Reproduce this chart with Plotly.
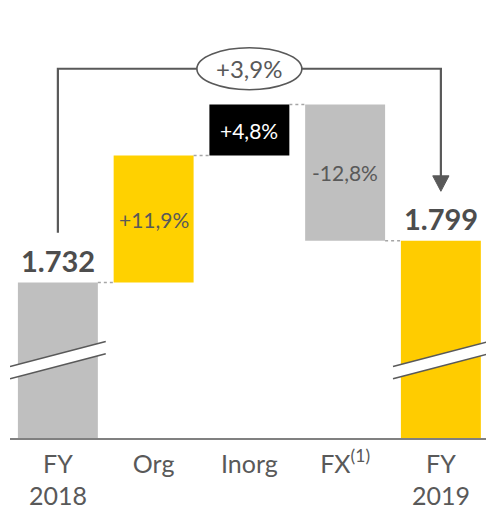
import plotly.graph_objects as go

# ---- data ----
categories = ["FY<br>2018", "Org", "Inorg", "FX<sup>(1)</sup>", "FY<br>2019"]
start_label = "1.732"
end_label = "1.799"
change_names = ["Org", "Inorg", "FX"]
changes = [11.9, 4.8, -12.8]          # % contributions
total_change = 3.9                    # % total growth
bar_colors = ["#BFBFBF", "#FFD100", "#000000", "#BFBFBF", "#FFCC00"]
label_colors = ["#595959", "white", "#595959"]

# ---- scale (index, FY2018 = 100) ----
start_val = 100.0
PX_PER_UNIT = 10.657
PLOT_H = 438
y_min = 85.4
y_max = y_min + PLOT_H / PX_PER_UNIT
levels = [start_val]
for c in changes:
    levels.append(levels[-1] + c)
end_val = start_val + total_change

BW = 0.835
TXT = "#595959"
FONT = "Lato"
last = len(categories) - 1

fig = go.Figure()

# bars
xs = list(range(len(categories)))
bases = [y_min] + [min(levels[i], levels[i + 1]) for i in range(len(changes))] + [y_min]
heights = [start_val - y_min] + [abs(c) for c in changes] + [end_val - y_min]
fig.add_trace(go.Bar(
    x=xs, y=heights, base=bases, width=BW,
    marker=dict(color=bar_colors, line=dict(width=0)),
    hoverinfo="skip", showlegend=False,
))

shapes = []
annotations = []

# dotted connectors
conn_levels = levels[:]
conn_levels[-1] = end_val
for i in range(last):
    shapes.append(dict(type="line", xref="x", yref="y",
                       x0=i + BW / 2, x1=i + 1 - BW / 2,
                       y0=conn_levels[i], y1=conn_levels[i],
                       line=dict(color="#A6A6A6", width=1.5, dash="dot")))

# break marks on the two total bars
for i in (0, last):
    yl_up, yr_up = 92.1, 94.45
    yl_lo, yr_lo = 90.95, 93.3
    x0, x1 = i - 0.5, i + 0.5
    shapes.append(dict(type="path", xref="x", yref="y",
                       path=f"M{x0},{yl_up} L{x1},{yr_up} L{x1},{yr_lo} L{x0},{yl_lo} Z",
                       fillcolor="white", line=dict(width=0)))
    for (a, b) in ((yl_up, yr_up), (yl_lo, yr_lo)):
        shapes.append(dict(type="line", xref="x", yref="y",
                           x0=x0, x1=x1, y0=a, y1=b,
                           line=dict(color=TXT, width=1.6)))

# growth arrow
gap = 4.65
arrow_y = start_val + 20.05
tip = end_val + gap
head_len, head_half = 1.45, 0.085
shapes.append(dict(type="path", xref="x", yref="y",
                   path=(f"M0,{start_val + gap} L0,{arrow_y} L{last},{arrow_y} "
                         f"L{last},{tip + head_len * 0.8}"),
                   line=dict(color=TXT, width=2.2)))
shapes.append(dict(type="path", xref="x", yref="y",
                   path=(f"M{last - head_half},{tip + head_len} L{last + head_half},{tip + head_len} "
                         f"L{last},{tip} Z"),
                   fillcolor=TXT, line=dict(color=TXT, width=1)))
# ellipse with total
shapes.append(dict(type="circle", xref="x", yref="y",
                   x0=2 - 0.548, x1=2 + 0.548, y0=arrow_y - 1.97, y1=arrow_y + 1.97,
                   fillcolor="white", line=dict(color=TXT, width=1.6)))
annotations.append(dict(x=2, y=arrow_y, xref="x", yref="y", showarrow=False,
                        text=f"{total_change:+.1f}%".replace(".", ","),
                        font=dict(family=FONT, size=24, color=TXT)))

# value labels for totals
annotations.append(dict(x=0, y=start_val, xref="x", yref="y", showarrow=False,
                        yanchor="middle", yshift=22,
                        text=f"<b>{start_label}</b>",
                        font=dict(family=FONT, size=29, color="#4D4D4D")))
annotations.append(dict(x=last, y=end_val, xref="x", yref="y", showarrow=False,
                        yanchor="middle", yshift=22,
                        text=f"<b>{end_label}</b>",
                        font=dict(family=FONT, size=29, color="#4D4D4D")))

# change labels
for i, c in enumerate(changes):
    annotations.append(dict(x=i + 1, y=(levels[i] + levels[i + 1]) / 2, xref="x", yref="y",
                            showarrow=False,
                            text=f"{c:+.1f}%".replace(".", ","),
                            font=dict(family=FONT, size=21, color=label_colors[i])))

fig.update_layout(
    width=486, height=507,
    margin=dict(l=10, r=0, t=0, b=69, autoexpand=False),
    paper_bgcolor="white", plot_bgcolor="white",
    shapes=shapes, annotations=annotations,
    xaxis=dict(range=[-0.5, -0.5 + 476 / 95.75], tickmode="array", tickvals=xs,
               ticktext=categories, showgrid=False, zeroline=False,
               showline=True, linecolor="#808080", linewidth=1.5, ticks="",
               ticklabelstandoff=3, automargin=False,
               tickfont=dict(family=FONT, size=25, color=TXT), fixedrange=True),
    yaxis=dict(range=[y_min, y_max], visible=False, fixedrange=True, automargin=False),
    font=dict(family=FONT),
)

fig.write_html("out.html", config={"displayModeBar": False},
               post_script="document.body.style.margin='0';document.body.style.overflow='hidden';")
